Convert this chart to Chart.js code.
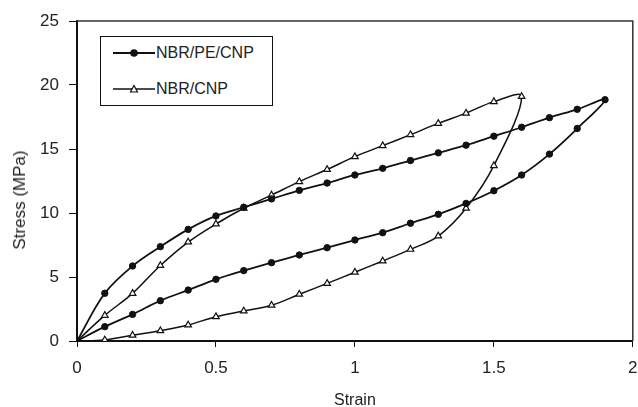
<!DOCTYPE html>
<html lang="en">
<head>
  <meta charset="UTF-8">
  <title>Stress vs Strain</title>
  <script src="https://cdn.jsdelivr.net/npm/chart.js"></script>
  <style>
    body {
      margin: 0;
      background: #fff;
      font-family: 'Liberation Sans', Arial, sans-serif;
      overflow: hidden;
    }

    #wrap {
      position: relative;
      width: 638px;
      height: 407px;
    }

    #legend {
      position: absolute;
      left: 100px;
      top: 36px;
      width: 171px;
      height: 68px;
      border: 1.5px solid #111;
      background: #fff;
      font-size: 16px;
      color: #222;
    }

    .row {
      position: absolute;
      left: 12px;
      display: flex;
      align-items: center;
    }

    .row svg { margin-right: 1px; }

    #ytitle {
      position: absolute;
      left: 20px;
      top: 200px;
      transform: translate(-50%, -50%) rotate(-90deg);
      white-space: nowrap;
      font-size: 17px;
      color: #222;
    }
  </style>
</head>
<body>
  <div id="wrap">
    <canvas id="chart" width="638" height="407"></canvas>
    <div id="ytitle">Stress (MPa)</div>
    <div id="legend">
      <div class="row" style="top:7px;">
        <svg width="42" height="12"><line x1="0" y1="6" x2="42" y2="6" stroke="#111" stroke-width="2"/><circle cx="21" cy="6" r="3.8" fill="#111"/></svg>
        <span>NBR/PE/CNP</span>
      </div>
      <div class="row" style="top:43px;">
        <svg width="42" height="12"><line x1="0" y1="6" x2="42" y2="6" stroke="#111" stroke-width="1.5"/><polygon points="21,2.5 24.5,9 17.5,9" fill="#fff" stroke="#111" stroke-width="1.2"/></svg>
        <span>NBR/CNP</span>
      </div>
    </div>
  </div>

  <script>
    // NBR/PE/CNP : loading then unloading
    const peStrainUp = [0, 0.1, 0.2, 0.3, 0.4, 0.5, 0.6, 0.7, 0.8, 0.9, 1.0, 1.1, 1.2, 1.3, 1.4, 1.5, 1.6, 1.7, 1.8, 1.9];
    const peStressUp = [0, 3.73, 5.86, 7.37, 8.72, 9.77, 10.45, 11.1, 11.77, 12.34, 12.97, 13.49, 14.1, 14.7, 15.3, 16.0, 16.7, 17.45, 18.1, 18.85];
    const peStrainDown = [1.8, 1.7, 1.6, 1.5, 1.4, 1.3, 1.2, 1.1, 1.0, 0.9, 0.8, 0.7, 0.6, 0.5, 0.4, 0.3, 0.2, 0.1, 0];
    const peStressDown = [16.6, 14.6, 12.97, 11.74, 10.75, 9.9, 9.2, 8.46, 7.89, 7.29, 6.72, 6.12, 5.5, 4.82, 3.98, 3.15, 2.08, 1.12, 0];

    // NBR/CNP : loading then unloading
    const cnpStrainUp = [0, 0.1, 0.2, 0.3, 0.4, 0.5, 0.6, 0.7, 0.8, 0.9, 1.0, 1.1, 1.2, 1.3, 1.4, 1.5, 1.6];
    const cnpStressUp = [0, 2.0, 3.72, 5.9, 7.73, 9.14, 10.37, 11.4, 12.45, 13.4, 14.4, 15.26, 16.12, 17.0, 17.8, 18.7, 19.1];
    const cnpStrainDown = [1.5, 1.4, 1.3, 1.2, 1.1, 1.0, 0.9, 0.8, 0.7, 0.6, 0.5, 0.4, 0.3, 0.2, 0.1, 0];
    const cnpStressDown = [13.7, 10.37, 8.2, 7.16, 6.25, 5.37, 4.5, 3.65, 2.79, 2.34, 1.9, 1.25, 0.8, 0.45, 0.08, 0];

    const xTicks = [0, 0.5, 1, 1.5, 2];
    const yTicks = [0, 5, 10, 15, 20, 25];

    function toPoints(xs, ys) {
      return xs.map((x, i) => ({ x: x, y: ys[i] }));
    }

    const peData = toPoints(peStrainUp, peStressUp).concat(toPoints(peStrainDown, peStressDown));
    const cnpData = toPoints(cnpStrainUp, cnpStressUp).concat(toPoints(cnpStrainDown, cnpStressDown));

    // frame around the plot area (top and right edges)
    const frame = {
      id: 'frame',
      afterDraw(chart) {
        const { ctx, chartArea: a } = chart;
        ctx.save();
        ctx.strokeStyle = '#333';
        ctx.lineWidth = 1.5;
        ctx.beginPath();
        ctx.moveTo(a.left, a.top);
        ctx.lineTo(a.right, a.top);
        ctx.lineTo(a.right, a.bottom);
        ctx.stroke();
        ctx.restore();
      }
    };

    const tickFont = { family: "'Liberation Sans', Arial, sans-serif", size: 17 };
    const titleFont = { family: "'Liberation Sans', Arial, sans-serif", size: 16 };

    new Chart(document.getElementById('chart'), {
      type: 'scatter',
      data: {
        datasets: [
          {
            label: 'NBR/PE/CNP',
            data: peData,
            showLine: true,
            tension: 0.35,
            borderColor: '#111',
            borderWidth: 1.8,
            pointStyle: 'circle',
            pointRadius: 3.2,
            pointBorderWidth: 1,
            pointBackgroundColor: '#111',
            pointBorderColor: '#111'
          },
          {
            label: 'NBR/CNP',
            data: cnpData,
            showLine: true,
            tension: 0.35,
            borderColor: '#111',
            borderWidth: 1.5,
            pointStyle: 'triangle',
            pointRadius: 3.8,
            pointBackgroundColor: '#fff',
            pointBorderColor: '#111',
            pointBorderWidth: 1.2
          }
        ]
      },
      options: {
        responsive: false,
        animation: false,
        layout: { padding: { top: 21, right: 0, left: 0, bottom: 0 } },
        plugins: {
          legend: { display: false },
          tooltip: { enabled: false }
        },
        scales: {
          x: {
            type: 'linear',
            min: 0,
            max: 2,
            afterBuildTicks: s => { s.ticks = xTicks.map(v => ({ value: v })); },
            afterFit: s => { s.height = 66; s.paddingLeft = 0; s.paddingRight = 0; },
            grid: { drawOnChartArea: false, color: '#111', tickLength: 6 },
            border: { color: '#111', width: 2 },
            ticks: { color: '#222', font: tickFont, padding: 11, maxRotation: 0, callback: v => String(v) },
            title: { display: true, text: 'Strain', color: '#222', font: titleFont, padding: { top: 0, bottom: -3 } }
          },
          y: {
            min: 0,
            max: 25,
            afterBuildTicks: s => { s.ticks = yTicks.map(v => ({ value: v })); },
            afterFit: s => { s.width = 77; },
            grid: { drawOnChartArea: false, color: '#111', tickLength: 8 },
            border: { color: '#111', width: 2 },
            ticks: { color: '#222', font: tickFont, padding: 10, callback: v => String(v) },
            title: { display: false }
          }
        }
      },
      plugins: [frame]
    });
  </script>
</body>
</html>
